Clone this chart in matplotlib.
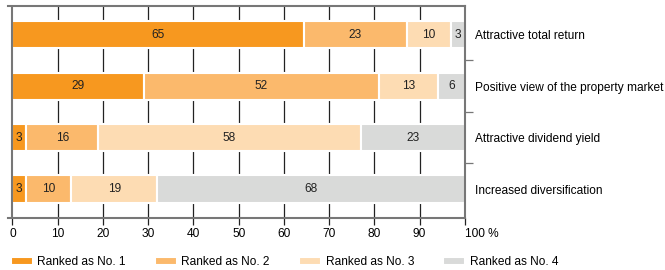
import numpy as np
import matplotlib
matplotlib.use('Agg')
import matplotlib.pyplot as plt

plt.rcParams['font.family'] = ['Liberation Sans', 'DejaVu Sans']

categories = ['Attractive total return', 'Positive view of the property market',
              'Attractive dividend yield', 'Increased diversification']
rank1 = [65, 29, 3, 3]
rank2 = [23, 52, 16, 10]
rank3 = [10, 13, 58, 19]
rank4 = [3, 6, 23, 68]
series = [rank1, rank2, rank3, rank4]
series_names = ['Ranked as No. 1', 'Ranked as No. 2', 'Ranked as No. 3', 'Ranked as No. 4']
colors = ['#f7981f', '#fbb96c', '#fddcb3', '#d9dad9']
xticks = list(range(0, 101, 10))

fig = plt.figure(figsize=(6.65, 2.7), dpi=100)
ax = fig.add_axes([0.0113, 0.193, 0.6877, 0.785])

fs = 8.6
spine_col = '#777777'
y = np.arange(len(categories))

# grid lines behind the bars
for xv in xticks[1:-1]:
    ax.axvline(xv, color='#222222', lw=0.9, zorder=0)

# rounded shares may add up to 101, bars are scaled to fill 100 %
data = np.array(series, dtype=float)
totals = data.sum(axis=0)
scaled = data / totals * 100

left = np.zeros(len(categories))
for vals, shown, name, col in zip(scaled, data, series_names, colors):
    ax.barh(y, vals, left=left, height=0.53, color=col, edgecolor='white',
            linewidth=1.5, label=name, zorder=2)
    for yi, (l, v, s) in enumerate(zip(left, vals, shown)):
        ax.text(l + v / 2, yi, f'{int(s)}', ha='center', va='center',
                fontsize=fs, color='#222222', zorder=3)
    left += vals

ax.set_xlim(-1.1, 100)
ax.set_ylim(3.56, -0.56)
ax.axvline(0, color=spine_col, lw=1.5, zorder=4)

ax.spines['left'].set_visible(False)
for s in ['top', 'bottom', 'right']:
    ax.spines[s].set_color(spine_col)
    ax.spines[s].set_linewidth(1.5)

ax.set_xticks(xticks)
ax.set_xticklabels([str(t) for t in xticks[:-1]] + ['100 %'])
ax.tick_params(axis='x', direction='out', length=5, width=0.9, color='#222222',
               labelsize=fs, pad=2)
lab = ax.get_xticklabels()[-1]
lab.set_horizontalalignment('left')
lab.set_x(97.8)

ax.yaxis.tick_right()
ax.set_yticks(y)
ax.set_yticklabels(categories)
ax.set_yticks(y[:-1] + 0.5, minor=True)
ax.tick_params(axis='y', which='major', length=0, pad=7, labelsize=fs)
ax.tick_params(axis='y', which='minor', direction='out', length=6, width=0.9,
               color=spine_col)

fig.legend(loc='lower left', bbox_to_anchor=(0.006, -0.02), ncol=4, frameon=False,
           fontsize=fs, handlelength=1.8, handleheight=0.6, handletextpad=0.4,
           columnspacing=2.45, borderaxespad=0.2)

fig.savefig('out.png', dpi=100)
